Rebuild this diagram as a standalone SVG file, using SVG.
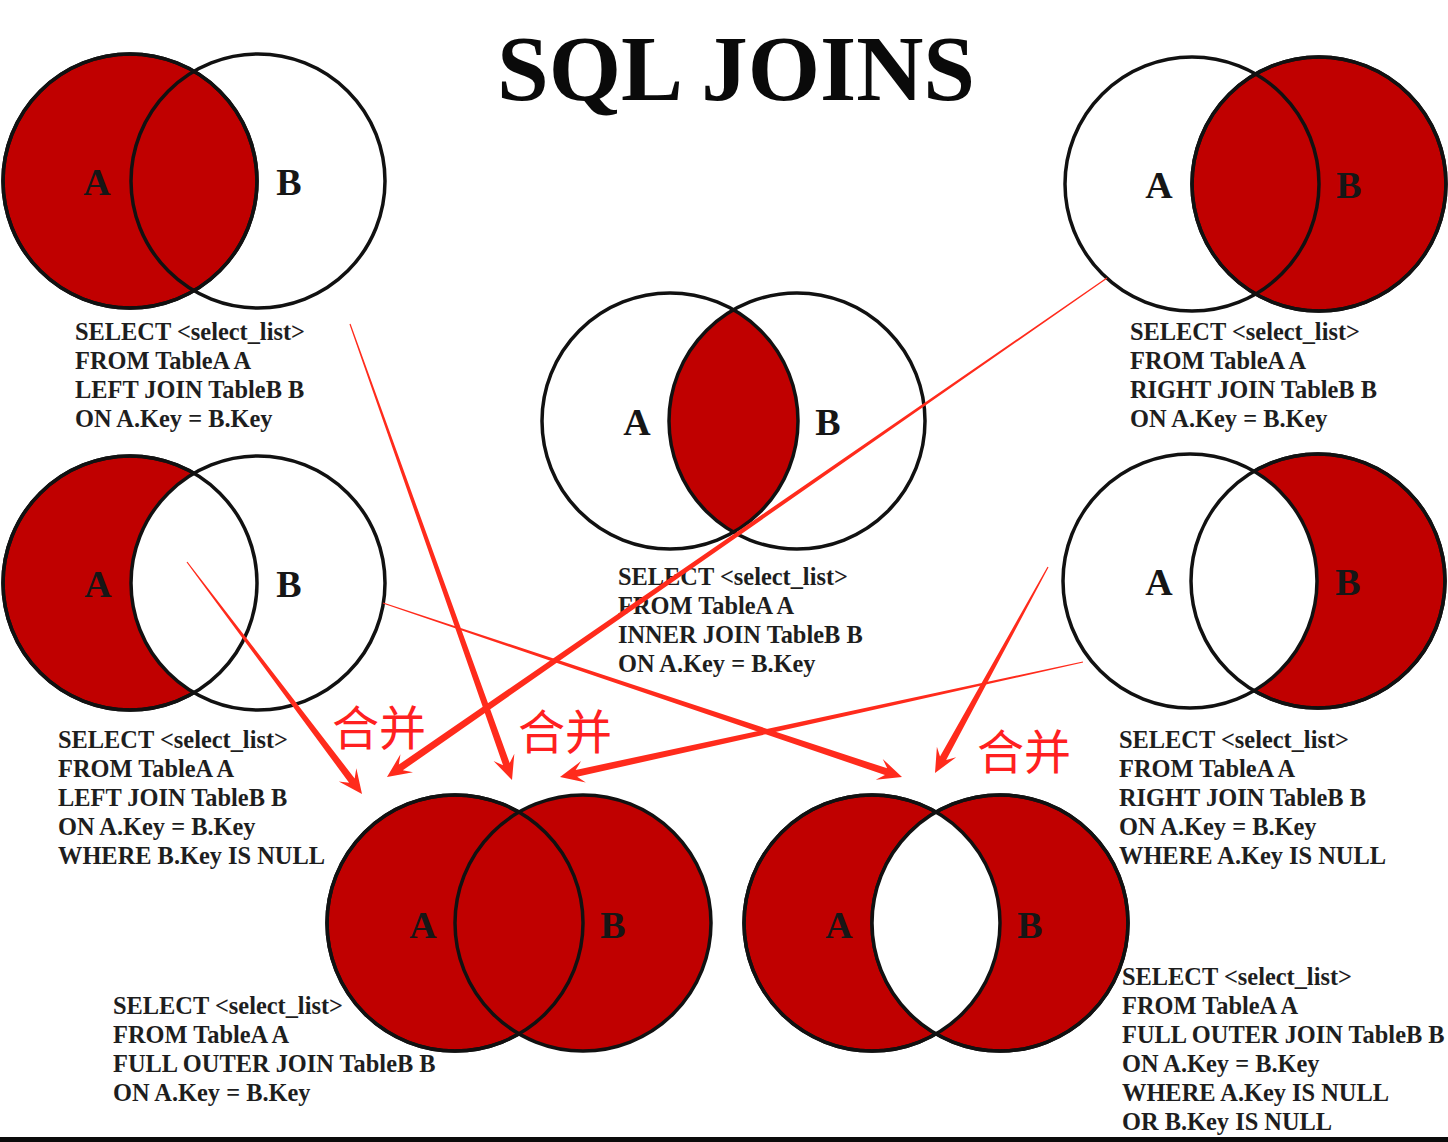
<svg xmlns="http://www.w3.org/2000/svg" width="1448" height="1142" viewBox="0 0 1448 1142">
<style>
.red{fill:#C00000;stroke:#111;stroke-width:3.5}
.wht{fill:#fff;stroke:#111;stroke-width:3.5}
.ol{fill:none;stroke:#111;stroke-width:3.5}
.fillred{fill:#C00000;stroke:none}
.fillwht{fill:#fff;stroke:none}
.lbl{font-family:"Liberation Serif",serif;font-weight:bold;font-size:38px;fill:#161616;text-anchor:middle}
.sql{font-family:"Liberation Serif",serif;font-weight:bold;font-size:24.4px;fill:#1e1e1e}
.title{font-family:"Liberation Serif",serif;font-weight:bold;font-size:93px;fill:#0a0a0a;text-anchor:middle}
.arrow{fill:#FF2B1C}
.hb{font-family:"Noto Sans CJK SC","Noto Sans CJK JP",sans-serif;font-size:47px;fill:#FF2020}
</style>
<defs>
<clipPath id="clipInner"><circle cx="670" cy="421" r="128"/></clipPath>
<clipPath id="clipBR"><circle cx="872" cy="923" r="128"/></clipPath>
</defs>
<rect width="1448" height="1142" fill="#fff"/>
<text class="title" x="736" y="100">SQL JOINS</text>

<g id="left-join">
<circle class="red" cx="130" cy="181" r="127"/>
<circle class="ol" cx="258" cy="181" r="127"/>
<circle class="ol" cx="130" cy="181" r="127"/>
<text class="lbl" x="97" y="195">A</text>
<text class="lbl" x="289" y="195">B</text>
<text class="sql" x="75" y="340">SELECT &lt;select_list&gt;</text>
<text class="sql" x="75" y="369">FROM TableA A</text>
<text class="sql" x="75" y="398">LEFT JOIN TableB B</text>
<text class="sql" x="75" y="427">ON A.Key = B.Key</text>
</g>

<g id="right-join">
<circle class="red" cx="1319" cy="184" r="127"/>
<circle class="ol" cx="1192" cy="184" r="127"/>
<circle class="ol" cx="1319" cy="184" r="127"/>
<text class="lbl" x="1159" y="198">A</text>
<text class="lbl" x="1349" y="198">B</text>
<text class="sql" x="1130" y="340">SELECT &lt;select_list&gt;</text>
<text class="sql" x="1130" y="369">FROM TableA A</text>
<text class="sql" x="1130" y="398">RIGHT JOIN TableB B</text>
<text class="sql" x="1130" y="427">ON A.Key = B.Key</text>
</g>

<g id="inner-join">
<circle class="fillred" cx="797" cy="421" r="128" clip-path="url(#clipInner)"/>
<circle class="ol" cx="670" cy="421" r="128"/>
<circle class="ol" cx="797" cy="421" r="128"/>
<text class="lbl" x="637" y="435">A</text>
<text class="lbl" x="828" y="435">B</text>
<text class="sql" x="618" y="585">SELECT &lt;select_list&gt;</text>
<text class="sql" x="618" y="614">FROM TableA A</text>
<text class="sql" x="618" y="643">INNER JOIN TableB B</text>
<text class="sql" x="618" y="672">ON A.Key = B.Key</text>
</g>

<g id="left-only">
<circle class="red" cx="130" cy="583" r="127"/>
<circle class="wht" cx="258" cy="583" r="127"/>
<circle class="ol" cx="130" cy="583" r="127"/>
<text class="lbl" x="98" y="597">A</text>
<text class="lbl" x="289" y="597">B</text>
<text class="sql" x="58" y="748">SELECT &lt;select_list&gt;</text>
<text class="sql" x="58" y="777">FROM TableA A</text>
<text class="sql" x="58" y="806">LEFT JOIN TableB B</text>
<text class="sql" x="58" y="835">ON A.Key = B.Key</text>
<text class="sql" x="58" y="864">WHERE B.Key IS NULL</text>
</g>

<g id="right-only">
<circle class="red" cx="1318" cy="581" r="127"/>
<circle class="wht" cx="1190" cy="581" r="127"/>
<circle class="ol" cx="1318" cy="581" r="127"/>
<text class="lbl" x="1159" y="595">A</text>
<text class="lbl" x="1348" y="595">B</text>
<text class="sql" x="1119" y="748">SELECT &lt;select_list&gt;</text>
<text class="sql" x="1119" y="777">FROM TableA A</text>
<text class="sql" x="1119" y="806">RIGHT JOIN TableB B</text>
<text class="sql" x="1119" y="835">ON A.Key = B.Key</text>
<text class="sql" x="1119" y="864">WHERE A.Key IS NULL</text>
</g>

<g id="full-outer">
<circle class="red" cx="455" cy="923" r="128"/>
<circle class="red" cx="583" cy="923" r="128"/>
<circle class="ol" cx="455" cy="923" r="128"/>
<text class="lbl" x="423" y="938">A</text>
<text class="lbl" x="613" y="938">B</text>
<text class="sql" x="113" y="1014">SELECT &lt;select_list&gt;</text>
<text class="sql" x="113" y="1043">FROM TableA A</text>
<text class="sql" x="113" y="1072">FULL OUTER JOIN TableB B</text>
<text class="sql" x="113" y="1101">ON A.Key = B.Key</text>
</g>

<g id="full-outer-exclusive">
<circle class="red" cx="872" cy="923" r="128"/>
<circle class="red" cx="1000" cy="923" r="128"/>
<circle class="fillwht" cx="1000" cy="923" r="128" clip-path="url(#clipBR)"/>
<circle class="ol" cx="872" cy="923" r="128"/>
<circle class="ol" cx="1000" cy="923" r="128"/>
<text class="lbl" x="839" y="938">A</text>
<text class="lbl" x="1030" y="938">B</text>
<text class="sql" x="1122" y="985">SELECT &lt;select_list&gt;</text>
<text class="sql" x="1122" y="1014">FROM TableA A</text>
<text class="sql" x="1122" y="1043">FULL OUTER JOIN TableB B</text>
<text class="sql" x="1122" y="1072">ON A.Key = B.Key</text>
<text class="sql" x="1122" y="1101">WHERE A.Key IS NULL</text>
<text class="sql" x="1122" y="1130">OR B.Key IS NULL</text>
</g>

<g id="connectors">
<polygon class="arrow" points="349.43,324.20 503.08,765.34 493.59,761.06 512,780 514.33,753.70 509.68,763.00 350.57,323.80"/>
<polygon class="arrow" points="186.52,562.36 349.09,782.70 338.77,781.46 362,794 356.33,768.22 354.67,778.48 187.48,561.64"/>
<polygon class="arrow" points="1106.66,277.51 398.82,764.55 400.46,754.29 387,777 413.00,772.37 402.80,770.31 1107.34,278.49"/>
<polygon class="arrow" points="1082.87,661.41 575.66,769.97 581.08,761.10 560,777 585.80,782.58 577.16,776.81 1083.13,662.59"/>
<polygon class="arrow" points="382.81,603.57 884.96,774.98 875.75,779.80 902,777 882.75,758.94 887.18,768.34 383.19,602.43"/>
<polygon class="arrow" points="1047.47,566.71 940.01,756.59 936.90,746.67 935,773 956.18,757.25 946.15,759.95 1048.53,567.29"/>
</g>

<g id="labels">
<text class="hb" x="332" y="745">合并</text>
<text class="hb" x="518" y="749">合并</text>
<text class="hb" x="977" y="769">合并</text>
</g>

<rect x="0" y="1137" width="1448" height="5" fill="#0a0a0a"/>
</svg>
